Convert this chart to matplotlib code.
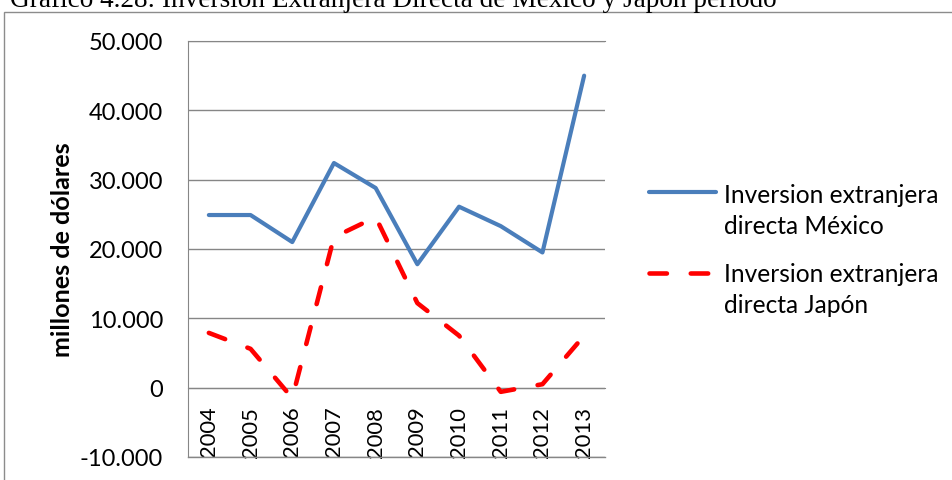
import matplotlib
matplotlib.use('Agg')
import matplotlib.pyplot as plt
from matplotlib.lines import Line2D
from matplotlib.patches import Rectangle
from matplotlib.ticker import FuncFormatter

# ---- data ----
years = ['2004', '2005', '2006', '2007', '2008', '2009', '2010', '2011', '2012', '2013']
mexico = [24900, 24900, 21000, 32400, 28800, 17800, 26100, 23300, 19500, 45000]
japon = [7900, 5600, -1500, 21700, 24600, 12200, 7500, -600, 500, 7500]
series_names = ['Inversion extranjera\ndirecta México', 'Inversion extranjera\ndirecta Japón']
yticks = [-10000, 0, 10000, 20000, 30000, 40000, 50000]
title = 'Gráfico 4.28: Inversión Extranjera Directa de México y Japón período'
ylabel = 'millones de dólares'

W, H = 952, 481
fig = plt.figure(figsize=(W / 100, H / 100), dpi=100)
renderer = fig.canvas.get_renderer()


def fit_size(s, target_px, family, weight='normal', base=20):
    t = fig.text(0, 0, s, fontsize=base, family=family, weight=weight)
    w = t.get_window_extent(renderer=renderer).width
    t.remove()
    return base * target_px / w


SANS = ['Lato', 'DejaVu Sans']
tick_fs = fit_size('50.000', 74, SANS)
xtick_fs = fit_size('2004', 51, SANS)
ylab_fs = fit_size(ylabel, 214, SANS, 'bold')
leg_fs = fit_size('Inversion extranjera', 215, SANS)
title_fs = fit_size(title, 765, ['Liberation Serif', 'DejaVu Serif'])

# outer frame
fig.add_artist(Rectangle((4 / W, -0.1), 1.2, 1 - 12.5 / H + 0.1, transform=fig.transFigure,
                         fill=False, edgecolor='#8c8c8c', lw=1.0))
fig.text(10 / W, 1 - 7 / H, title, family=['Liberation Serif', 'DejaVu Serif'],
         fontsize=title_fs, ha='left', va='baseline', color='black')

ax = fig.add_axes([188 / W, 1 - 458 / H, (605 - 188) / W, (458 - 42) / H])
x = list(range(len(years)))
ax.plot(x, mexico, color='#4A7EBB', lw=3.0, solid_capstyle='round', solid_joinstyle='round',
        zorder=3)
ax.plot(x, japon, color='#FF0000', lw=3.3, dashes=(3.8, 5.2), dash_capstyle='round',
        dash_joinstyle='round', zorder=3)

ax.set_xlim(-0.5, len(years) - 0.5)
ax.set_ylim(yticks[0], yticks[-1])
ax.set_yticks(yticks)
ax.yaxis.set_major_formatter(FuncFormatter(lambda v, p: f'{int(v):,}'.replace(',', '.')))
ax.set_xticks(x)
ax.set_xticklabels(years)
ax.tick_params(axis='y', length=0, pad=18, labelsize=tick_fs, labelfontfamily=SANS)
ax.tick_params(axis='x', length=0, pad=13, labelsize=xtick_fs, labelrotation=90,
               labelfontfamily=SANS)
ax.grid(axis='y', color='#868686', lw=1.0)
ax.set_axisbelow(True)
ax.spines['right'].set_visible(False)
ax.spines['top'].set_color('#868686')
ax.spines['left'].set_color('#868686')
ax.spines['bottom'].set_color('#868686')
ax.spines['bottom'].set_position(('data', 0))
ax.axhline(yticks[0], color='#868686', lw=1.0, clip_on=False, zorder=1)

fig.text(62 / W, 1 - 250 / H, ylabel, rotation=90, ha='center', va='center',
         family=SANS, weight='bold', fontsize=ylab_fs)

# legend (manual)
styles = [dict(color='#4A7EBB', lw=3.0, solid_capstyle='round'),
          dict(color='#FF0000', lw=3.3, dashes=(3.8, 5.2), dash_capstyle='round')]
handle_y = [193, 274]
text_y = [211, 290]
for name, st, hy, ty in zip(series_names, styles, handle_y, text_y):
    fig.add_artist(Line2D([649 / W, 716 / W], [1 - hy / H, 1 - hy / H],
                          transform=fig.transFigure, **st))
    fig.text(724 / W, 1 - ty / H, name, ha='left', va='center', family=SANS,
             fontsize=leg_fs, linespacing=1.45)

fig.savefig('out.png', dpi=100)
